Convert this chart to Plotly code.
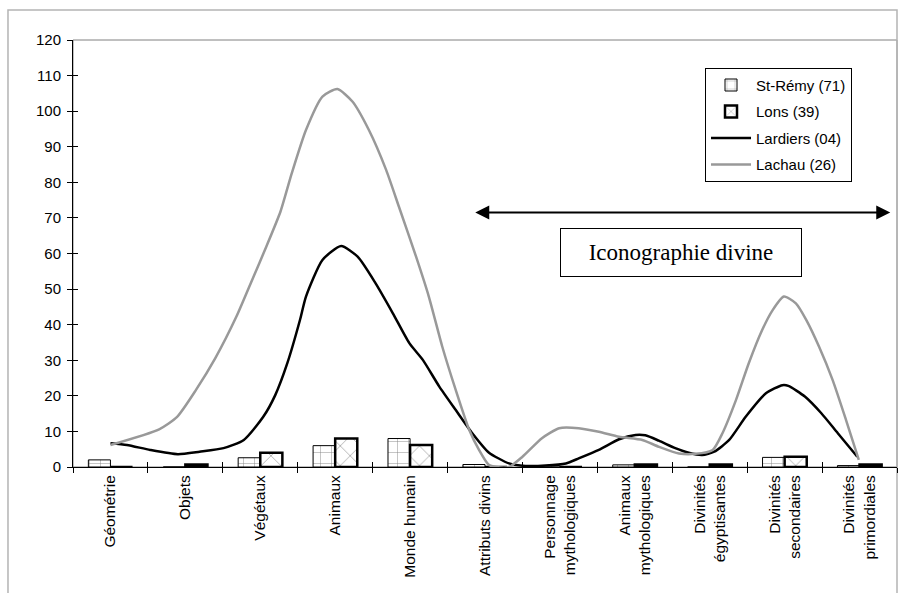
import plotly.graph_objects as go

categories = ["Géométrie", "Objets", "Végétaux", "Animaux", "Monde humain",
              "Attributs divins", "Personnage<br>mythologiques", "Animaux<br>mythologiques",
              "Divinités<br>égyptisantes", "Divinités<br>secondaires", "Divinités<br>primordiales"]
cat_pos = list(range(len(categories)))

st_remy = [2, 0, 2.6, 6, 8, 0.7, 0.3, 0.6, 0, 2.7, 0.4]
lons = [0, 0.7, 4, 8, 6.2, 0, 0, 0.7, 0.7, 2.9, 0.7]

lardiers_x = [0.0, 0.22, 0.53, 0.90, 1.19, 1.51, 1.78, 2.04, 2.20, 2.36, 2.53, 2.61, 2.83, 3.08,
              3.30, 3.54, 3.77, 3.99, 4.17, 4.39, 4.61, 4.83, 5.05, 5.32, 5.54, 5.81, 6.08, 6.25,
              6.52, 6.79, 7.01, 7.14, 7.32, 7.54, 7.72, 7.90, 8.06, 8.26, 8.48, 8.75, 8.97, 9.05,
              9.27, 9.49, 9.71, 9.97]
lardiers_y = [6.7, 6.2, 4.8, 3.6, 4.3, 5.3, 7.6, 14.1, 20.2, 29.1, 41.3, 47.9, 58.2, 62.1,
              59.1, 51.6, 43.2, 34.8, 30.1, 22.6, 16.0, 9.5, 4.1, 1.0, 0.3, 0.4, 1.0, 2.4,
              4.8, 7.8, 9.0, 8.9, 7.4, 5.3, 4.0, 3.4, 4.3, 7.6, 14.1, 20.7, 23.0, 22.8,
              19.8, 15.1, 9.5, 2.9]

lachau_x = [0.0, 0.65, 0.89, 1.14, 1.40, 1.68, 1.90, 2.08, 2.27, 2.42, 2.61, 2.83, 3.03, 3.23,
            3.45, 3.68, 3.85, 4.08, 4.25, 4.43, 4.61, 4.79, 4.92, 5.05, 5.15, 5.32, 5.50, 5.76,
            5.99, 6.25, 6.52, 6.79, 7.10, 7.32, 7.59, 7.81, 8.04, 8.17, 8.35, 8.52, 8.70, 8.84,
            8.99, 9.15, 9.29, 9.46, 9.64, 9.82, 9.99]
lachau_y = [6.2, 10.6, 14.1, 21.6, 30.6, 42.2, 53.0, 61.9, 71.8, 82.5, 94.7, 104.1, 106.2, 102.7,
            94.7, 83.5, 73.2, 59.1, 47.9, 33.8, 21.6, 10.4, 4.8, 0.6, 0.0, 0.0, 2.9, 8.1,
            10.9, 10.9, 9.9, 8.5, 7.6, 5.7, 3.8, 3.7, 4.8, 9.5, 18.8, 29.1, 38.5, 44.1,
            47.9, 46.0, 41.3, 33.8, 24.5, 13.2, 2.0]

y_ticks = list(range(0, 121, 10))
boundaries = [i - 0.5 for i in range(len(categories) + 1)]

FONT = "Liberation Sans, Arial, sans-serif"

fig = go.Figure()
fig.add_trace(go.Bar(
    x=cat_pos, y=st_remy, name="St-Rémy (71)", legendgroup="a",
    marker=dict(color="white", line=dict(color="black", width=1),
                pattern=dict(shape="+", fgcolor="black", bgcolor="white", size=11, solidity=0.08)),
))
fig.add_trace(go.Bar(
    x=cat_pos, y=lons, name="Lons (39)", legendgroup="b",
    marker=dict(color="white", line=dict(color="black", width=2.5),
                pattern=dict(shape="x", fgcolor="black", bgcolor="white", size=14, solidity=0.08)),
))
fig.add_trace(go.Scatter(
    x=lardiers_x, y=lardiers_y, name="Lardiers (04)", legendgroup="c", mode="lines",
    line=dict(color="black", width=2.5, shape="spline", smoothing=0.6),
))
fig.add_trace(go.Scatter(
    x=lachau_x, y=lachau_y, name="Lachau (26)", legendgroup="d", mode="lines",
    line=dict(color="#999999", width=2.5, shape="spline", smoothing=0.6),
))
# helper empty traces to register tick-only overlay axes
for xa, ya in [("x2", "y"), ("x3", "y"), ("x", "y2")]:
    fig.add_trace(go.Scatter(x=[], y=[], xaxis=xa, yaxis=ya, showlegend=False, hoverinfo="skip"))

fig.update_layout(
    width=911, height=593,
    margin=dict(l=73, r=14, t=40, b=126, autoexpand=False),
    paper_bgcolor="white", plot_bgcolor="white",
    font=dict(family=FONT, size=15, color="black"),
    barmode="group", bargap=0.41, bargroupgap=0,
    showlegend=True,
    legend=dict(x=0.767, y=0.935, xanchor="left", yanchor="top",
                bordercolor="black", borderwidth=1, bgcolor="white",
                font=dict(family=FONT, size=15), itemwidth=40,
                traceorder="grouped", tracegroupgap=4),
    xaxis=dict(range=[-0.5, 10.5], tickmode="array", tickvals=cat_pos, ticktext=categories,
               tickangle=-90, ticks="", showgrid=False, zeroline=False, automargin=False,
               showline=True, linecolor="black", linewidth=1,
               ticklabelstandoff=1, tickfont=dict(family=FONT, size=15.5)),
    xaxis2=dict(range=[-0.5, 10.5], overlaying="x", anchor="y", side="bottom", automargin=False,
                tickmode="array", tickvals=boundaries, ticks="outside", ticklen=5,
                tickcolor="black", showticklabels=False, showgrid=False, zeroline=False,
                showline=False),
    xaxis3=dict(range=[-0.5, 10.5], overlaying="x", anchor="y", side="bottom", automargin=False,
                tickmode="array", tickvals=boundaries, ticks="inside", ticklen=5,
                tickcolor="black", showticklabels=False, showgrid=False, zeroline=False,
                showline=False),
    yaxis=dict(range=[0, 120], tickmode="array", tickvals=y_ticks, ticks="outside", ticklen=5,
               tickcolor="black", showgrid=False, zeroline=False, automargin=False,
               showline=True, linecolor="black", linewidth=1,
               ticklabelstandoff=3, tickfont=dict(family=FONT, size=15)),
    yaxis2=dict(range=[0, 120], overlaying="y", anchor="x", side="left", automargin=False,
                tickmode="array", tickvals=y_ticks, ticks="inside", ticklen=5,
                tickcolor="black", showticklabels=False, showgrid=False, zeroline=False,
                showline=False),
)

# plot area frame (grey top/right) and outer chart frame
fig.add_shape(type="rect", xref="paper", yref="paper", x0=0, x1=1, y0=0, y1=1,
              line=dict(color="#808080", width=1), layer="below")
fig.add_shape(type="rect", xref="paper", yref="paper", x0=-0.0789, x1=1.0, y0=-0.4, y1=1.0703,
              line=dict(color="#b4b4b4", width=1.5), layer="below")

# double-headed arrow and label box
fig.add_annotation(x=10.41, y=71.5, ax=4.85, ay=71.5, xref="x", yref="y", axref="x", ayref="y",
                   text="", showarrow=True, arrowside="end+start",
                   arrowhead=2, startarrowhead=2, arrowsize=1.4, startarrowsize=1.4,
                   arrowwidth=2, arrowcolor="black", standoff=0, startstandoff=0)
fig.add_annotation(x=7.62, y=60.3, xref="x", yref="y", text="Iconographie divine",
                   showarrow=False, font=dict(family="Liberation Serif, Times New Roman, serif", size=23),
                   bordercolor="black", borderwidth=1, bgcolor="white", width=238, height=45)

fig.write_html("out.html", config={"displayModeBar": False},
               post_script="document.body.style.margin='0';document.body.style.padding='0';")
